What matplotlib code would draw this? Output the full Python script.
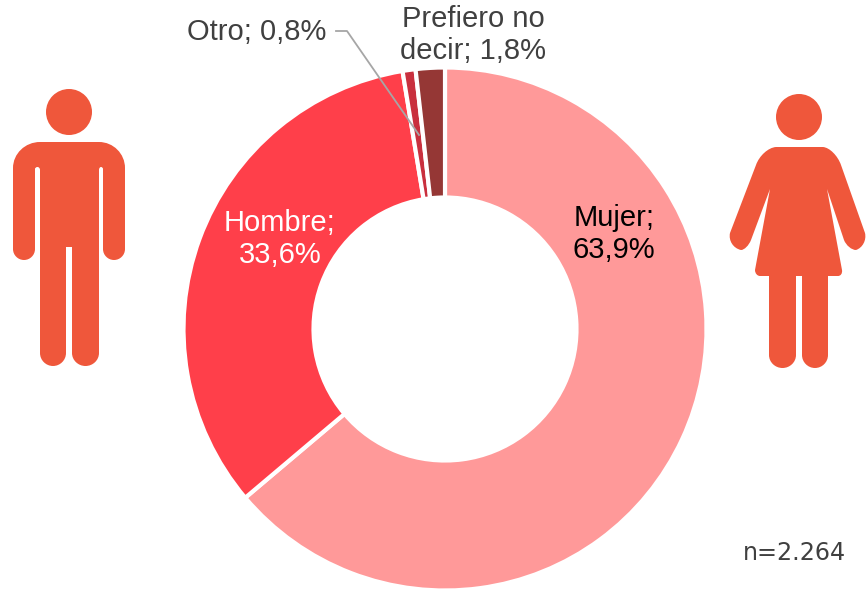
import matplotlib
matplotlib.use("Agg")
import matplotlib.pyplot as plt
from matplotlib.patches import Circle, PathPatch
from matplotlib.path import Path

plt.rcParams["font.family"] = ["Liberation Sans", "DejaVu Sans"]

categories = ["Mujer", "Hombre", "Otro", "Prefiero no\ndecir"]
values = [63.9, 33.6, 0.8, 1.8]
colors = ["#FF9999", "#FF3F4A", "#C9303E", "#953735"]
note = "n=2.264"

ICON = "#EF573B"
W, H = 866, 591
K = 0.55  # quarter circle handle


def label(i):
    return f"{categories[i]}; {str(values[i]).replace('.', ',')}%"


def outline(start, segs):
    """Closed path in pixels, a 1 point seg is a line, 2 points (corner, end) a round corner"""
    verts, codes = [start], [Path.MOVETO]
    for seg in segs:
        if len(seg) == 1:
            verts += seg
            codes += [Path.LINETO]
        else:
            p0, c, p1 = verts[-1], seg[0], seg[1]
            h0 = (p0[0] + K * (c[0] - p0[0]), p0[1] + K * (c[1] - p0[1]))
            h1 = (p1[0] + K * (c[0] - p1[0]), p1[1] + K * (c[1] - p1[1]))
            verts += [h0, h1, p1]
            codes += [Path.CURVE4, Path.CURVE4, Path.CURVE4]
    verts.append(start)
    codes.append(Path.CLOSEPOLY)
    return Path(verts, codes)


fig = plt.figure(figsize=(W / 100, H / 100), dpi=100)

# donut, y axis going up
ax = fig.add_axes([0, 0, 1, 1])
ax.pie(
    values,
    colors=colors,
    startangle=90,
    counterclock=False,
    center=(445, H - 329),
    radius=261.5,
    wedgeprops=dict(width=130, edgecolor="white", linewidth=3),
)
ax.set_xlim(0, W)
ax.set_ylim(0, H)

# overlay in picture pixels
top = fig.add_axes([0, 0, 1, 1])
top.set_xlim(0, W)
top.set_ylim(H, 0)
top.axis("off")

# man
top.add_patch(Circle((69, 112), 23, color=ICON, lw=0))
man = outline(
    (40, 142),
    [
        [(99, 142)],
        [(125, 142), (125, 168)],
        [(125, 249)],
        [(125, 260), (114, 260)],
        [(103, 260), (103, 249)],
        [(103, 169)],
        [(103, 167), (101, 167)],
        [(99, 167), (99, 170)],
        [(99, 353)],
        [(99, 366), (85.5, 366)],
        [(72, 366), (72, 353)],
        [(72, 247)],
        [(66, 247)],
        [(66, 353)],
        [(66, 366), (53, 366)],
        [(40, 366), (40, 353)],
        [(40, 170)],
        [(40, 167), (37.5, 167)],
        [(35, 167), (35, 169)],
        [(35, 249)],
        [(35, 260), (24, 260)],
        [(13, 260), (13, 249)],
        [(13, 168)],
        [(13, 142), (40, 142)],
    ],
)
top.add_patch(PathPatch(man, facecolor=ICON, lw=0))

# woman
top.add_patch(Circle((799, 117), 23, color=ICON, lw=0))
woman = outline(
    (776, 147),
    [
        [(823, 147)],
        [(835, 148), (841, 165)],
        [(865, 233)],
        [(868, 246), (856, 250)],
        [(848, 250), (844, 240)],
        [(827, 189)],
        [(842, 270)],
        [(843, 276), (838, 276)],
        [(828, 276)],
        [(828, 355)],
        [(828, 368), (815, 368)],
        [(802, 368), (802, 355)],
        [(802, 276)],
        [(796, 276)],
        [(796, 355)],
        [(796, 368), (782.5, 368)],
        [(769, 368), (769, 355)],
        [(769, 276)],
        [(760, 276)],
        [(755, 276), (755, 270)],
        [(770, 189)],
        [(751, 240)],
        [(747, 250), (741, 250)],
        [(727, 247), (730, 233)],
        [(756, 165)],
        [(762, 148), (776, 147)],
    ],
)
top.add_patch(PathPatch(woman, facecolor=ICON, lw=0))

# leader line for the small slice
top.plot([336, 347, 419], [31, 31, 135], color="#A6A6A6", lw=1.3, solid_joinstyle="round")

fs = 21
top.text(614, 234, "Mujer;\n" + label(0).split("; ")[1], color="black", fontsize=fs,
         ha="center", va="center", linespacing=1.18)
top.text(280, 239, "Hombre;\n" + label(1).split("; ")[1], color="white", fontsize=fs,
         ha="center", va="center", linespacing=1.18)
top.text(257, 32, label(2), color="#404040", fontsize=fs, ha="center", va="center")
top.text(473, 35, label(3), color="#404040", fontsize=fs, ha="center", va="center",
         linespacing=1.22)
top.text(846, 553, note, color="#404040", fontsize=17.2, family="DejaVu Sans",
         ha="right", va="center")

fig.savefig("out.png", dpi=100)
